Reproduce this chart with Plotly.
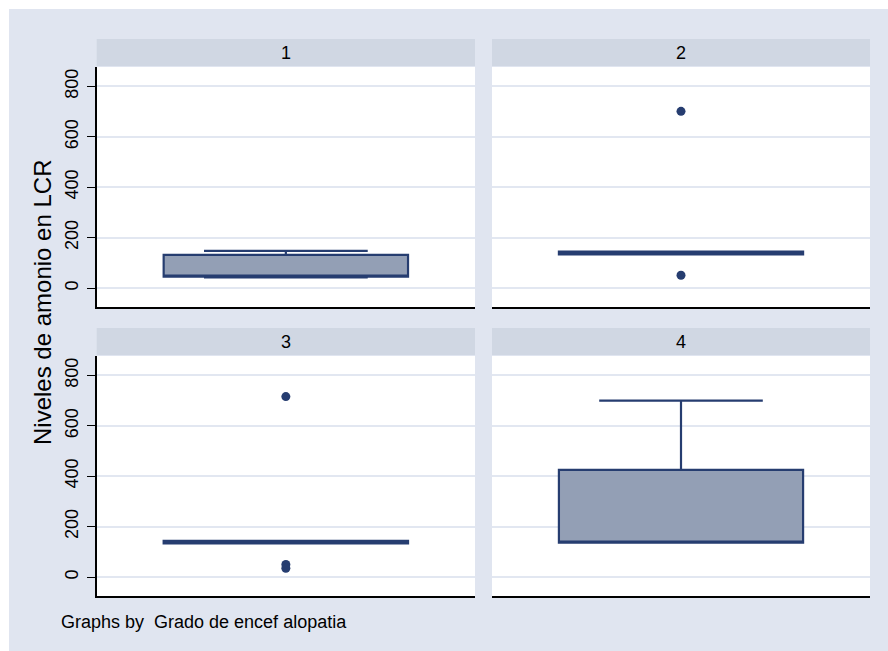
import plotly.graph_objects as go

# ---- data ----
groups = ["1", "2", "3", "4"]
q1 = [45, 134, 134, 137]
median = [50, 140, 139, 139]
q3 = [132, 145, 144, 425]
lowerfence = [42, 134, 134, 137]
upperfence = [148, 145, 144, 700]
outliers = [[], [701, 51], [716, 50, 35], []]
y_ticks = [0, 200, 400, 600, 800]
y_title = "Niveles de amonio en LCR"
footer = "Graphs by  Grado de encef alopatia"

W, H = 888, 651
BG = "rgb(224,229,240)"
STRIP = "rgb(208,215,227)"
GRID = "rgb(226,231,241)"
FILL = "rgb(147,159,181)"
NAVY = "rgb(38,61,112)"
FONT = "Liberation Sans, Arial, sans-serif"
TICK_SIZE = 18

def px_x(v):
    return v / W

def px_y(v):
    return 1 - v / H

# panel geometry (pixels)
cols = [(96.7, 475), (492, 870)]
rows = [(67, 307), (356, 596)]
strips = [(39, 66), (328, 355)]

fig = go.Figure()
layout = dict(
    width=W, height=H, margin=dict(l=0, r=0, t=0, b=0),
    paper_bgcolor=BG, plot_bgcolor="white", showlegend=False,
    font=dict(family=FONT, color="black", size=TICK_SIZE),
)
shapes = [
    dict(type="rect", xref="paper", yref="paper", x0=0, x1=1, y0=px_y(9), y1=1,
         fillcolor="white", line=dict(width=0), layer="below"),
    dict(type="rect", xref="paper", yref="paper", x0=0, x1=px_x(9), y0=0, y1=1,
         fillcolor="white", line=dict(width=0), layer="below"),
]
annotations = []

for i, g in enumerate(groups):
    r, c = divmod(i, 2)
    n = i + 1
    xa = "x" if n == 1 else f"x{n}"
    ya = "y" if n == 1 else f"y{n}"
    x0, x1 = cols[c]
    y0, y1 = rows[r]
    layout["xaxis" if n == 1 else f"xaxis{n}"] = dict(
        domain=[px_x(x0), px_x(x1)], anchor=ya, range=[-0.5, 0.5],
        showgrid=False, zeroline=False, showticklabels=False, ticks="",
        showline=True, linecolor="black", linewidth=1.5, fixedrange=True,
    )
    yax = dict(
        domain=[px_y(y1), px_y(y0)], anchor=xa, range=[-75, 877],
        tickmode="array", tickvals=y_ticks, ticktext=[str(t) for t in y_ticks],
        showgrid=True, gridcolor=GRID, gridwidth=2,
        zeroline=False, fixedrange=True,
    )
    if c == 0:
        yax.update(showline=True, linecolor="black", linewidth=1.5,
                   ticks="outside", ticklen=8, tickcolor="black", tickwidth=1,
                   tickangle=-90, ticklabelstandoff=2,
                   tickfont=dict(size=TICK_SIZE, family=FONT, color="black"))
    else:
        yax.update(showline=False, showticklabels=False, ticks="")
    layout["yaxis" if n == 1 else f"yaxis{n}"] = yax

    fig.add_trace(go.Box(
        x=[0], q1=[q1[i]], median=[median[i]], q3=[q3[i]],
        lowerfence=[lowerfence[i]], upperfence=[upperfence[i]],
        width=0.646, whiskerwidth=0.67, fillcolor=FILL,
        line=dict(color=NAVY, width=2.2), boxpoints=False,
        xaxis=xa, yaxis=ya, hoverinfo="y",
    ))
    if outliers[i]:
        fig.add_trace(go.Scatter(
            x=[0] * len(outliers[i]), y=outliers[i], mode="markers",
            marker=dict(size=9, color=NAVY), xaxis=xa, yaxis=ya,
        ))

    s0, s1 = strips[r]
    shapes.append(dict(type="rect", xref="paper", yref="paper",
                       x0=px_x(x0), x1=px_x(x1), y0=px_y(s1), y1=px_y(s0),
                       fillcolor=STRIP, line=dict(width=0), layer="below"))
    annotations.append(dict(text=g, xref="paper", yref="paper",
                            x=px_x((x0 + x1) / 2), y=px_y((s0 + s1) / 2),
                            showarrow=False, xanchor="center", yanchor="middle",
                            font=dict(size=18, family=FONT, color="black")))

annotations.append(dict(text=y_title, xref="paper", yref="paper",
                        x=px_x(42), y=px_y(303), textangle=-90, showarrow=False,
                        xanchor="center", yanchor="middle",
                        font=dict(size=24, family=FONT, color="black")))
annotations.append(dict(text=footer, xref="paper", yref="paper",
                        x=px_x(59), y=px_y(622), showarrow=False,
                        xanchor="left", yanchor="middle",
                        font=dict(size=18, family=FONT, color="black")))

layout["shapes"] = shapes
layout["annotations"] = annotations
fig.update_layout(**layout)
fig.write_html("out.html")
